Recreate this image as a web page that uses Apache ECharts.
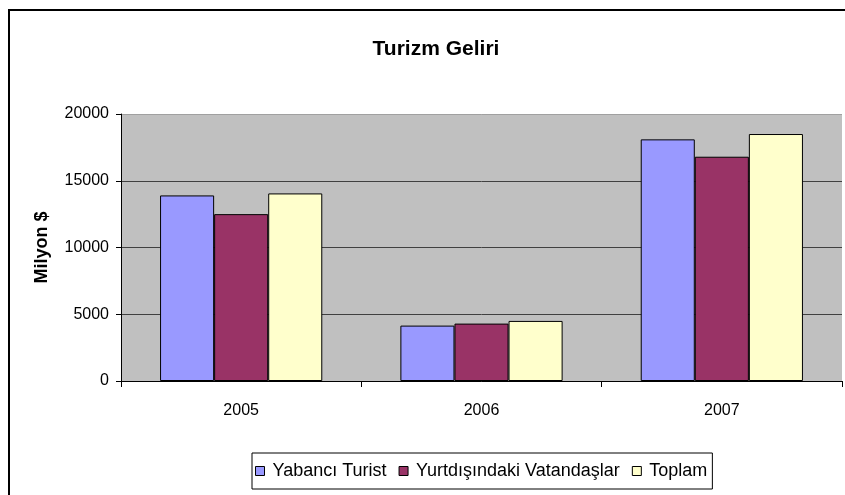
<!DOCTYPE html>
<html>
<head>
<meta charset="utf-8">
<script src="https://cdn.jsdelivr.net/npm/echarts@6/dist/echarts.min.js"></script>
<style>
html,body{margin:0;padding:0;background:#fff;}
#chart{width:845px;height:495px;}
</style>
</head>
<body>
<div id="chart"></div>
<script>
var categories = ['2005', '2006', '2007'];
var yabanciTurist = [13900, 4150, 18100];
var yurtdisindakiVatandaslar = [12500, 4300, 16800];
var toplam = [14050, 4500, 18500];
var seriesNames = ['Yabancı Turist', 'Yurtdışındaki Vatandaşlar', 'Toplam'];
var titleText = 'Turizm Geliri';
var yAxisName = 'Milyon $';

var FONT = '"Liberation Sans", Arial, sans-serif';
var colors = ['#9999FF', '#993366', '#FFFFCC'];

var chart = echarts.init(document.getElementById('chart'), null, {renderer: 'canvas'});

function bar(name, data, color) {
  return {
    name: name,
    type: 'bar',
    data: data,
    barGap: '0%',
    barCategoryGap: '32.5%',
    itemStyle: {color: color, borderColor: '#000', borderWidth: 1},
    emphasis: {disabled: true},
    animation: false
  };
}

chart.setOption({
  animation: false,
  backgroundColor: '#fff',
  title: {
    text: titleText,
    left: 431,
    textAlign: 'center',
    top: 34,
    textStyle: {fontFamily: FONT, fontSize: 21, fontWeight: 'bold', color: '#000'}
  },
  graphic: [{
    type: 'rect',
    shape: {x: 9, y: 10, width: 900, height: 600},
    style: {fill: 'none', stroke: '#000', lineWidth: 2},
    silent: true,
    z: 100
  }],
  legend: {
    data: seriesNames,
    left: 252,
    top: 453,
    orient: 'horizontal',
    itemWidth: 9,
    itemHeight: 9,
    itemGap: 12,
    padding: [9, 5, 9, 3],
    borderColor: '#000',
    borderWidth: 1,
    icon: 'rect',
    textStyle: {fontFamily: FONT, fontSize: 18, color: '#000', padding: [0, 0, 0, 3]},
    itemStyle: {borderColor: '#000', borderWidth: 1}
  },
  grid: {
    left: 121, right: 3, top: 114, bottom: 114,
    show: true,
    backgroundColor: '#C0C0C0',
    borderWidth: 0
  },
  xAxis: {
    type: 'category',
    data: categories,
    axisLine: {lineStyle: {color: '#000', width: 1}},
    axisTick: {show: true, alignWithLabel: false, length: 6, lineStyle: {color: '#000'}},
    axisLabel: {fontFamily: FONT, fontSize: 16, color: '#000', margin: 22},
    splitLine: {show: false}
  },
  yAxis: {
    type: 'value',
    min: 0, max: 20000, interval: 5000,
    name: yAxisName,
    nameLocation: 'middle',
    nameGap: 70,
    nameRotate: 90,
    nameTextStyle: {fontFamily: FONT, fontSize: 18, fontWeight: 'bold', color: '#000'},
    axisLine: {show: true, lineStyle: {color: '#000', width: 1}},
    axisTick: {show: true, length: 5, lineStyle: {color: '#000'}},
    axisLabel: {fontFamily: FONT, fontSize: 16, color: '#000', margin: 12,
      formatter: function (v) { return String(v); }},
    splitLine: {show: true, lineStyle: {color: ['#404040', '#404040', '#404040', '#404040', '#A0A0A0'], width: 1}}
  },
  series: [
    bar(seriesNames[0], yabanciTurist, colors[0]),
    bar(seriesNames[1], yurtdisindakiVatandaslar, colors[1]),
    bar(seriesNames[2], toplam, colors[2])
  ]
});
</script>
</body>
</html>
